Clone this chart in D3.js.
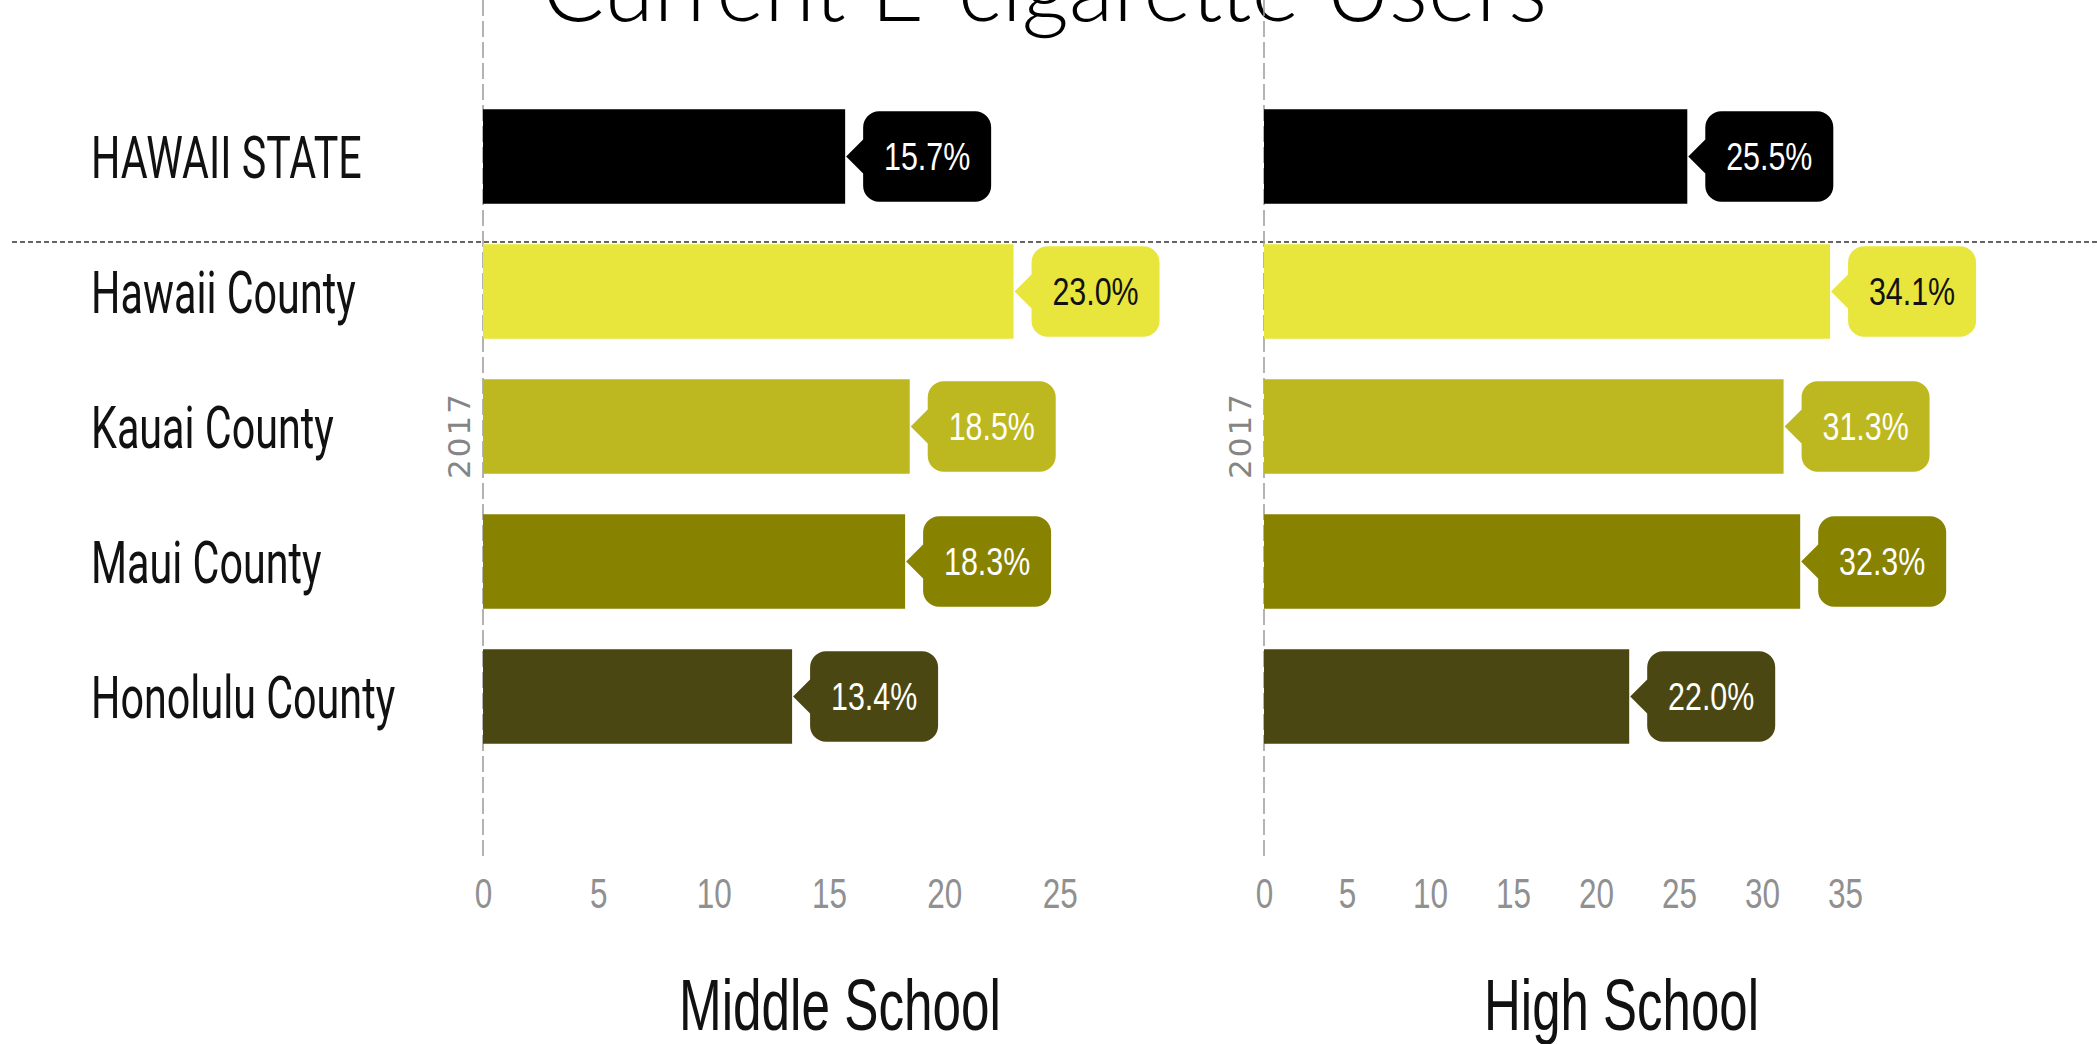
<!DOCTYPE html>
<html>
<head>
<meta charset="utf-8">
<script src="https://cdn.jsdelivr.net/npm/d3@7"></script>
<style>
  body { margin: 0; background: #fff; }
  .narrow { font-family: "Liberation Sans", Arial, sans-serif; }
</style>
</head>
<body>
<script>
// data
var regions = ["HAWAII STATE", "Hawaii County", "Kauai County", "Maui County", "Honolulu County"];
var middleSchool = [15.7, 23.0, 18.5, 18.3, 13.4];
var highSchool = [25.5, 34.1, 31.3, 32.3, 22.0];
var middleTicks = [0, 5, 10, 15, 20, 25];
var highTicks = [0, 5, 10, 15, 20, 25, 30, 35];
var barColors = ["#000000", "#e8e53c", "#bdb820", "#878200", "#4b4712"];
var labelColors = ["#ffffff", "#111111", "#ffffff", "#ffffff", "#ffffff"];
var yearLabel = "2017";

var width = 2097, height = 1044;

var svg = d3.select("body").append("svg")
    .attr("width", width)
    .attr("height", height);

// rows
var y = d3.scaleBand()
    .domain(regions)
    .range([89, 764])
    .paddingInner(0.3)
    .paddingOuter(0.15);

// title (cut off at the top, as in the original)
svg.append("text")
    .attr("x", 542)
    .attr("y", 21)
    .attr("textLength", 1005)
    .attr("lengthAdjust", "spacingAndGlyphs")
    .style("font-family", "Lato, 'Open Sans', sans-serif")
    .style("font-weight", 300)
    .style("font-size", "92px")
    .text("Current E-cigarette Users");

// row labels
svg.append("g").selectAll("text")
    .data(regions)
    .enter().append("text")
    .attr("transform", function(d) {
      return "translate(91," + (y(d) + y.bandwidth() / 2 + 21) + ") scale(0.7,1)";
    })
    .style("font-family", "Roboto, sans-serif")
    .style("font-size", "59px")
    .style("fill", "#111")
    .text(function(d) { return d; });

// dashed separator under the state row
svg.append("line")
    .attr("x1", 12).attr("x2", width)
    .attr("y1", 242).attr("y2", 242)
    .style("stroke", "#333")
    .style("stroke-width", 1.5)
    .style("stroke-dasharray", "5,3");

function callout(x0, cy, h) {
  var w = 128, gap = 18, r = 16, a = 17;
  var bx = x0 + gap, t = cy - h / 2, b = cy + h / 2;
  return "M" + (bx + r) + "," + t +
    "H" + (bx + w - r) + "A" + r + "," + r + " 0 0 1 " + (bx + w) + "," + (t + r) +
    "V" + (b - r) + "A" + r + "," + r + " 0 0 1 " + (bx + w - r) + "," + b +
    "H" + (bx + r) + "A" + r + "," + r + " 0 0 1 " + bx + "," + (b - r) +
    "V" + (cy + a) + "L" + (x0 + 1) + "," + cy + "L" + bx + "," + (cy - a) +
    "V" + (t + r) + "A" + r + "," + r + " 0 0 1 " + (bx + r) + "," + t + "Z";
}

function panel(values, ticks, domainMax, x0, x1, title, titleX, titleW) {
  var x = d3.scaleLinear().domain([0, domainMax]).range([x0, x1]);
  var g = svg.append("g");

  // axis line
  g.append("line")
    .attr("x1", x(0)).attr("x2", x(0))
    .attr("y1", 0).attr("y2", 857)
    .style("stroke", "#9a9a9a")
    .style("stroke-width", 1.5)
    .style("stroke-dasharray", "16,5");

  // year label
  g.append("text")
    .attr("transform", "translate(" + (x(0) - 13) + "," + (y(regions[2]) + y.bandwidth() / 2 + 9) + ") rotate(-90)")
    .attr("text-anchor", "middle")
    .style("font-family", "'DejaVu Sans', sans-serif")
    .style("font-size", "31px")
    .style("letter-spacing", "2px")
    .style("fill", "#858585")
    .text(yearLabel);

  // bars
  g.selectAll(".bar")
    .data(values)
    .enter().append("rect")
    .attr("class", "bar")
    .attr("x", x(0))
    .attr("y", function(d, i) { return y(regions[i]); })
    .attr("width", function(d) { return x(d) - x(0); })
    .attr("height", y.bandwidth())
    .style("fill", function(d, i) { return barColors[i]; });

  // callouts
  g.selectAll(".callout")
    .data(values)
    .enter().append("path")
    .attr("class", "callout")
    .attr("d", function(d, i) {
      return callout(x(d), y(regions[i]) + y.bandwidth() / 2, y.bandwidth() - 4);
    })
    .style("fill", function(d, i) { return barColors[i]; });

  g.selectAll(".val")
    .data(values)
    .enter().append("text")
    .attr("class", "val narrow")
    .attr("transform", function(d, i) {
      return "translate(" + (x(d) + 18 + 64) + "," + (y(regions[i]) + y.bandwidth() / 2) + ") scale(0.8,1)";
    })
    .attr("dy", "0.36em")
    .attr("text-anchor", "middle")
    .style("font-size", "38px")
    .style("fill", function(d, i) { return labelColors[i]; })
    .text(function(d) { return d.toFixed(1) + "%"; });

  // x axis
  var axis = g.append("g")
    .attr("transform", "translate(0,893)")
    .call(d3.axisBottom(x).tickValues(ticks).tickSize(0));
  axis.select(".domain").remove();
  axis.selectAll("text")
    .attr("class", "narrow")
    .attr("y", 0)
    .attr("dy", "0.36em")
    .attr("transform", "scale(0.75,1)")
    .style("font-size", "42px")
    .style("fill", "#909090");

  // panel title
  g.append("text")
    .attr("class", "narrow")
    .attr("x", titleX)
    .attr("y", 1030)
    .attr("textLength", titleW)
    .attr("lengthAdjust", "spacingAndGlyphs")
    .style("font-size", "73px")
    .style("fill", "#111")
    .text(title);
}

panel(middleSchool, middleTicks, 30, 483, 1175, "Middle School", 679, 322);
panel(highSchool, highTicks, 40, 1264, 1928, "High School", 1484, 275);
</script>
</body>
</html>
